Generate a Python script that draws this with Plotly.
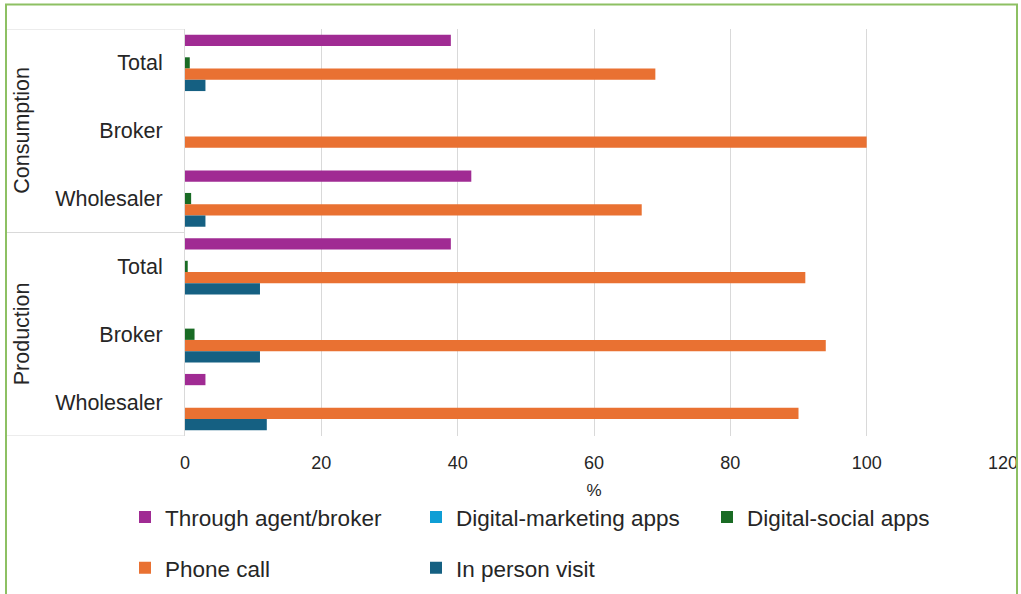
import plotly.graph_objects as go

# Survey categories: outer group and respondent type
groups = ["Consumption", "Production"]
respondents = ["Total", "Broker", "Wholesaler"]

# Share of respondents (%) by communication channel, in category order
# (Consumption: Total, Broker, Wholesaler; Production: Total, Broker, Wholesaler)
series_names = [
    "Through agent/broker",
    "Digital-marketing apps",
    "Digital-social apps",
    "Phone call",
    "In person visit",
]
agent_broker = [39, 0, 42, 39, 0, 3]
digital_marketing = [0, 0, 0, 0, 0, 0]
digital_social = [0.7, 0, 0.9, 0.4, 1.4, 0]
phone_call = [69, 100, 67, 91, 94, 90]
in_person = [3, 0, 3, 11, 11, 12]

x_ticks = [0, 20, 40, 60, 80, 100, 120]

colors = ["#A02B93", "#0F9ED5", "#196B24", "#E97132", "#156082"]
values = [agent_broker, digital_marketing, digital_social, phone_call, in_person]

# Category positions along the y axis
labels = [r for _ in groups for r in respondents]
positions = list(range(len(labels)))

# Figure geometry (pixels)
W, H = 1021, 594
L, R, T, B = 185, 18, 28.5, 157.5
PW, PH = W - L - R, H - T - B


def px_x(px):
    return (px - L) / PW


def px_y(py):
    return (H - B - py) / PH


TEXT = "#262626"
FONT = "Liberation Sans, Arial, sans-serif"
GRID = "#D9D9D9"

fig = go.Figure()
for i, (name, vals, col) in enumerate(zip(series_names, values, colors)):
    fig.add_trace(go.Bar(
        y=positions,
        x=vals,
        name=name,
        orientation="h",
        marker=dict(color=col, line=dict(width=0)),
        legend="legend" if i < 3 else "legend2",
    ))

shapes = []
# group dividers in the category-label box
n = len(respondents)
bounds = [g * n - 0.5 for g in range(len(groups) + 1)]
for yb in bounds:
    shapes.append(dict(type="line", xref="paper", yref="y",
                       x0=px_x(7), x1=0, y0=yb, y1=yb,
                       line=dict(color=GRID, width=1)))
# outer frame
shapes.append(dict(type="rect", xref="paper", yref="paper",
                   x0=px_x(6), x1=px_x(1017), y0=px_y(640), y1=px_y(4),
                   line=dict(color="#8DC063", width=2), fillcolor="rgba(0,0,0,0)",
                   layer="above"))

annotations = []
for g, gname in enumerate(groups):
    idx = positions[g * n:(g + 1) * n]
    annotations.append(dict(
        text=gname, xref="paper", yref="y",
        x=px_x(22), y=sum(idx) / len(idx),
        textangle=-90, showarrow=False,
        font=dict(family=FONT, size=21.5, color=TEXT),
        xanchor="center", yanchor="middle",
    ))

legend_common = dict(
    orientation="h",
    xanchor="left", yanchor="middle",
    font=dict(family=FONT, size=22.5, color=TEXT),
    entrywidth=246, entrywidthmode="pixels",
    bgcolor="rgba(0,0,0,0)",
    traceorder="normal",
)

fig.update_layout(
    width=W, height=H,
    margin=dict(l=L, r=R, t=T, b=B, autoexpand=False),
    paper_bgcolor="white",
    plot_bgcolor="white",
    template="none",
    barmode="group",
    bargap=0.17,
    bargroupgap=0,
    font=dict(family=FONT, color=TEXT),
    xaxis=dict(
        range=[0, 120], tickvals=x_ticks,
        showgrid=True, gridcolor=GRID, gridwidth=1,
        zeroline=False, showline=False, ticks="",
        tickfont=dict(family=FONT, size=18, color=TEXT),
        ticklabelstandoff=14,
        title=dict(text="%", font=dict(family=FONT, size=17, color=TEXT), standoff=12),
    ),
    yaxis=dict(
        tickvals=positions, ticktext=labels,
        range=[len(labels) - 0.5, -0.5],
        showgrid=False, zeroline=False,
        showline=True, linecolor=GRID, linewidth=1,
        ticks="", ticklabelstandoff=17,
        tickfont=dict(family=FONT, size=21.5, color=TEXT),
    ),
    legend=dict(legend_common, x=px_x(125), y=px_y(518)),
    legend2=dict(legend_common, x=px_x(125), y=px_y(569)),
    shapes=shapes,
    annotations=annotations,
    showlegend=True,
)

fig.write_html("out.html")
